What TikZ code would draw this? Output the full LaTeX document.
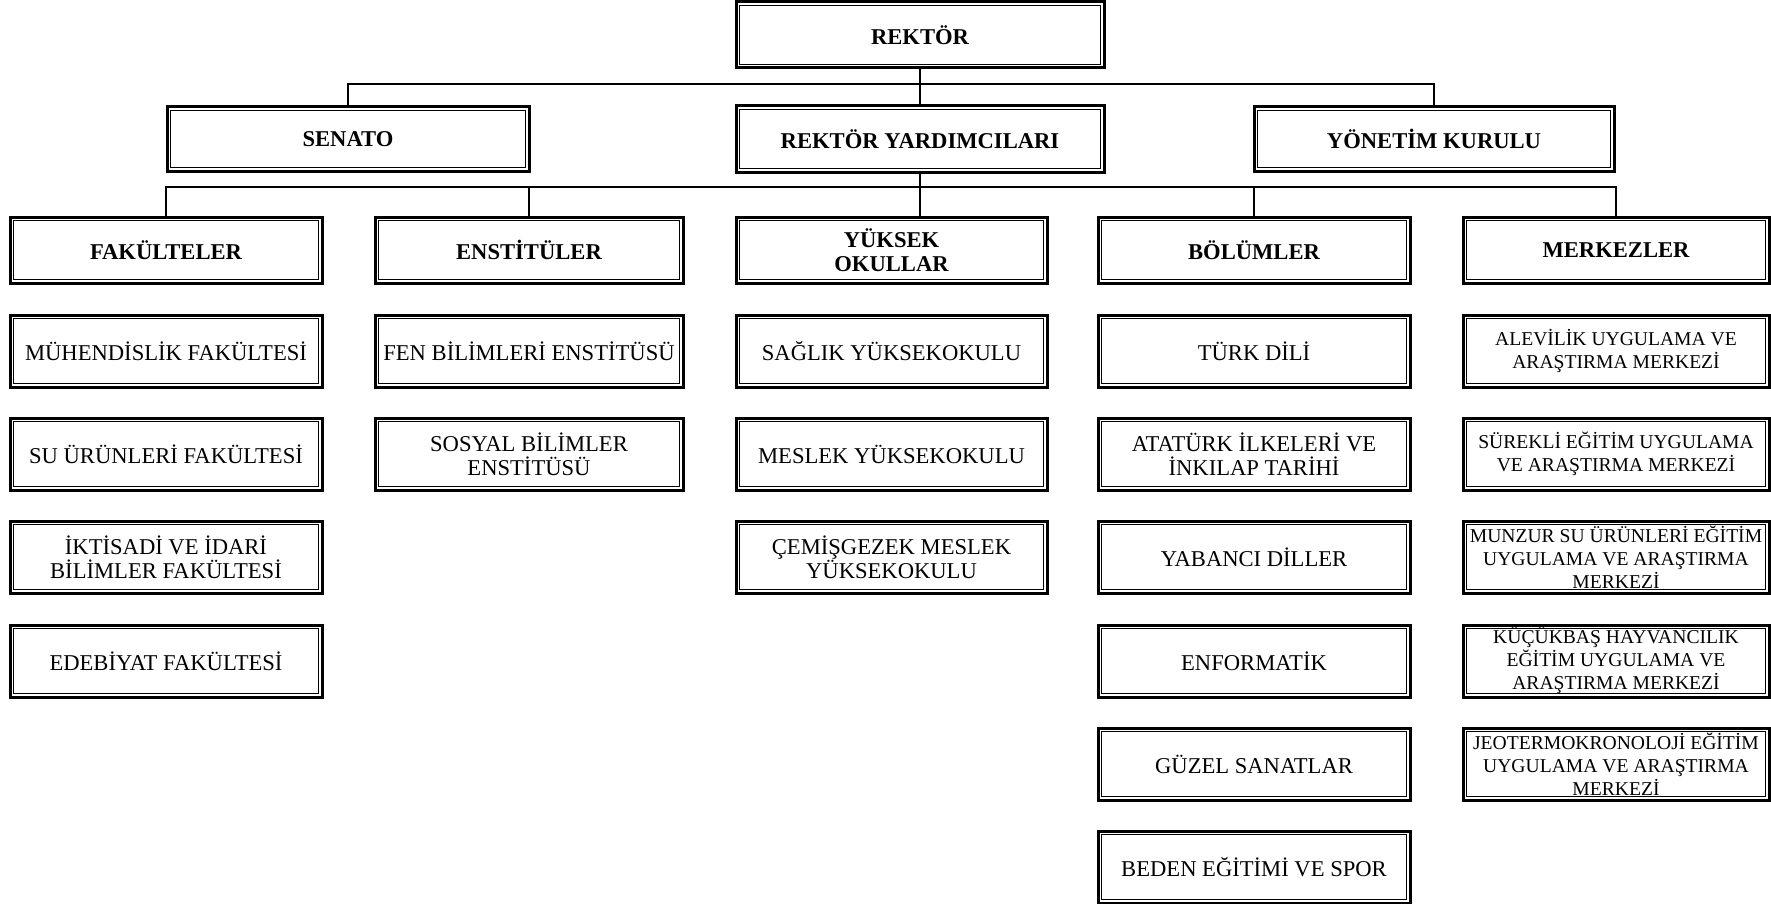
\documentclass[tikz,border=0pt]{standalone}
\usepackage{fontspec}
\setmainfont{Liberation Serif}
\usepackage{tikz}

\begin{document}
\begin{tikzpicture}[x=0.5pt,y=-0.5pt]

\tikzstyle{unit}=[rectangle,draw=black,line width=1.5pt,minimum height=36pt,inner sep=1pt,align=center,font=\fontsize{11.3}{12}\selectfont,path picture={\draw[line width=0.5pt] ([shift={(1.6pt,1.6pt)}]path picture bounding box.south west) rectangle ([shift={(-1.6pt,-1.6pt)}]path picture bounding box.north east);}]
\tikzstyle{head}=[unit,minimum height=33pt,font=\fontsize{11.3}{12}\selectfont\bfseries]
\tikzstyle{centre}=[unit,font=\fontsize{9.8}{11.5}\selectfont]
\tikzstyle{link}=[line width=1.1pt]
\useasboundingbox (0,0) rectangle (1771,904);

\node[head,minimum width=184pt] (rektor) at (920,35) {REKTÖR};
\node[head,minimum width=181pt,minimum height=32pt] (senato) at (348,139) {SENATO};
\node[head,minimum width=184pt] (ry) at (920,139) {REKTÖR YARDIMCILARI};
\node[head,minimum width=180pt,minimum height=32pt] (yonetim) at (1434,139) {YÖNETİM KURULU};

\node[head,minimum width=156pt] (fak) at (166,250) {FAKÜLTELER};
\node[head,minimum width=154pt] (ens) at (529,250) {ENSTİTÜLER};
\node[head,minimum width=155.5pt] (yo) at (891.5,250) {YÜKSEK\\OKULLAR};
\node[head,minimum width=156pt] (bol) at (1254,250) {BÖLÜMLER};
\node[head,minimum width=153pt] (mer) at (1616,250) {MERKEZLER};

\node[unit,minimum width=156pt] (muh) at (166,351) {MÜHENDİSLİK FAKÜLTESİ};
\node[unit,minimum width=156pt] (suf) at (166,454) {SU ÜRÜNLERİ FAKÜLTESİ};
\node[unit,minimum width=156pt] (iibf) at (166,557) {İKTİSADİ VE İDARİ\\BİLİMLER FAKÜLTESİ};
\node[unit,minimum width=156pt] (edeb) at (166,661) {EDEBİYAT FAKÜLTESİ};

\node[unit,minimum width=154pt] (fbe) at (529,351) {FEN BİLİMLERİ ENSTİTÜSÜ};
\node[unit,minimum width=154pt] (sbe) at (529,454) {SOSYAL BİLİMLER\\ENSTİTÜSÜ};

\node[unit,minimum width=155.5pt] (syo) at (891.5,351) {SAĞLIK YÜKSEKOKULU};
\node[unit,minimum width=155.5pt] (myo) at (891.5,454) {MESLEK YÜKSEKOKULU};
\node[unit,minimum width=155.5pt] (cmyo) at (891.5,557) {ÇEMİŞGEZEK MESLEK\\YÜKSEKOKULU};

\node[unit,minimum width=156pt] (turk) at (1254,351) {TÜRK DİLİ};
\node[unit,minimum width=156pt] (ata) at (1254,454) {ATATÜRK İLKELERİ VE\\İNKILAP TARİHİ};
\node[unit,minimum width=156pt] (ydil) at (1254,557) {YABANCI DİLLER};
\node[unit,minimum width=156pt] (enf) at (1254,661) {ENFORMATİK};
\node[unit,minimum width=156pt] (gsan) at (1254,764) {GÜZEL SANATLAR};
\node[unit,minimum width=156pt] (bes) at (1254,867) {BEDEN EĞİTİMİ VE SPOR};

\node[centre,minimum width=153pt] (alevi) at (1616,351) {ALEVİLİK UYGULAMA VE\\ARAŞTIRMA MERKEZİ};
\node[centre,minimum width=153pt] (surekli) at (1616,454) {SÜREKLİ EĞİTİM UYGULAMA\\VE ARAŞTIRMA MERKEZİ};
\node[centre,minimum width=153pt] (munzur) at (1616,557) {MUNZUR SU ÜRÜNLERİ EĞİTİM\\UYGULAMA VE ARAŞTIRMA\\MERKEZİ};
\node[centre,minimum width=153pt] (kucuk) at (1616,661) {KÜÇÜKBAŞ HAYVANCILIK\\EĞİTİM UYGULAMA VE\\ARAŞTIRMA MERKEZİ};
\node[centre,minimum width=153pt] (jeo) at (1616,764) {JEOTERMOKRONOLOJİ EĞİTİM\\UYGULAMA VE ARAŞTIRMA\\MERKEZİ};

\coordinate (bar1) at (920,84);
\coordinate (bar2) at (920,187);
\draw[link] (rektor) -- (ry);
\draw[link] (senato.north) |- (bar1) -| (yonetim.north);
\draw[link] (ry.south) -- (ry.south |- yo.north);
\draw[link] (fak.north) |- (bar2) -| (mer.north);
\draw[link] (ens.north) -- (ens.north |- bar2);
\draw[link] (bol.north) -- (bol.north |- bar2);
\end{tikzpicture}
\end{document}
